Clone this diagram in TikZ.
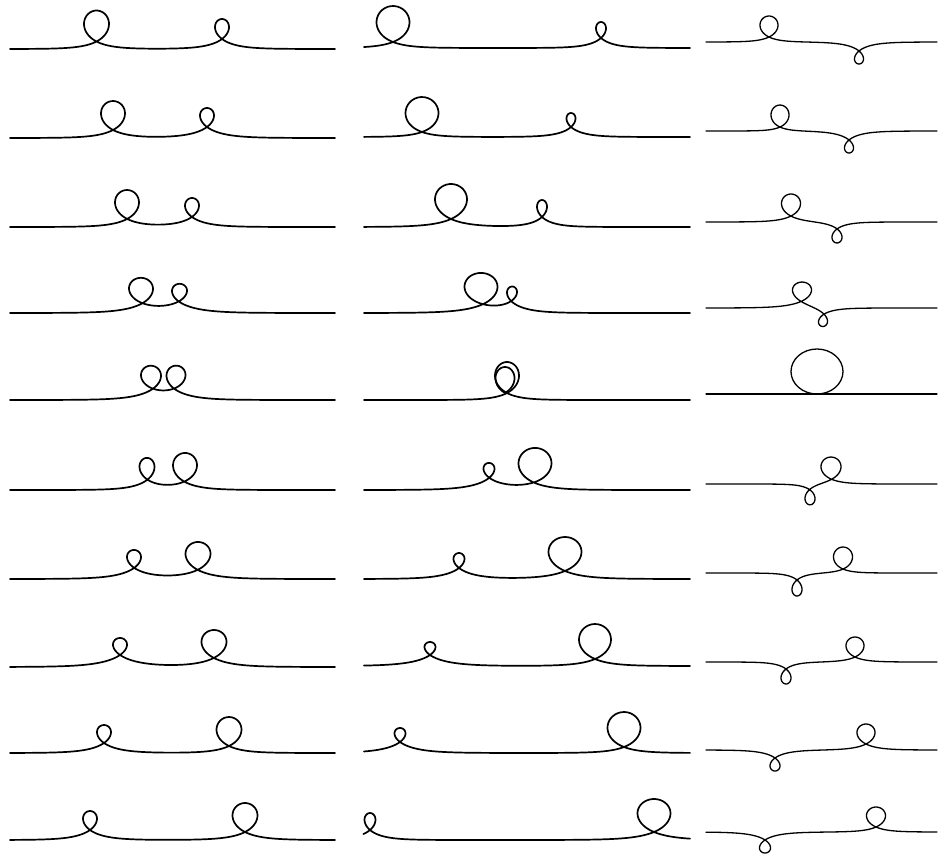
\documentclass[tikz,border=0pt]{standalone}
\usetikzlibrary{calc}

\tikzset{
  curve/.style={line width=1.7pt, line cap=round, line join=round},
  thincurve/.style={curve, line width=1.3pt},
  declare function={clp(\u)=max(-9,min(9,\u));
    tnh(\u)=tanh(clp(\u)); sch(\u)=1/cosh(clp(\u));}
}

% loop shape from width, height (signed) and rise of the crossing
\newcommand\setloopshape[3]{%
  \pgfmathsetmacro\lpz{(abs(#2)+#3)/#3}%
  \pgfmathsetmacro\lpuc{ln(\lpz+sqrt(\lpz*\lpz-1))}%
  \pgfmathsetmacro\lpal{\lpuc/tanh(\lpuc)}%
  \pgfmathsetmacro\lpum{ln(sqrt(\lpal)+sqrt(\lpal-1))}%
  \pgfmathsetmacro\lpw{#1/(2*(sqrt(\lpal*\lpal-\lpal)-\lpum))}%
  \pgfmathsetmacro\lpa{\lpal*\lpw}%
  \pgfmathsetmacro\lpb{(abs(#2)+#3)*sign(#2)}%
}

% two loops on one line, from x = #1 to x = #2
\newcommand\twoloops[3]{%
  \foreach \yb/\xa/\wa/\ha/\ra/\xb/\wb/\hb/\rb in {#3}{
    \setloopshape{\wa}{\ha}{\ra}
    \let\wA\lpw \let\aA\lpa \let\bA\lpb
    \setloopshape{\wb}{\hb}{\rb}
    \let\wB\lpw \let\aB\lpa \let\bB\lpb
    \pgfmathsetmacro\pA{\xa-\aB}
    \pgfmathsetmacro\pB{\xb+\aA}
    \pgfmathsetmacro\smin{#1-\aA-\aB}
    \pgfmathsetmacro\smax{#2+\aA+\aB}
    \draw[line] plot[smooth, domain=\smin:\smax, samples=240]
      ({\x-\aA*tnh((\x-\pA)/\wA)-\aB*tnh((\x-\pB)/\wB)},
       {\yb-\bA*sch((\x-\pA)/\wA)-\bB*sch((\x-\pB)/\wB)});
  }%
}

\begin{document}
\begin{tikzpicture}[x=1pt, y=-1pt]
  \useasboundingbox (0,0) rectangle (938,854);

  % left column
  \tikzset{line/.style={curve}}
  \twoloops{10}{335}{
    49/96.5/25/31/7.5/222/14/20/10,
    138/113/24/29/8/207/14/19/11,
    227/127/24/29/8/192/14/19/10,
    313/141/24/26/9/179.5/15/18/11,
    400/151/20/24/10/176/19/24/10,
    490/147/15/22/10/185/24/29/8,
    579/134/14/18/11/198/25/28/9,
    667/120/14/17/12/214/25/28/9,
    753/104/14/18/10/229/25/29/7,
    840/90/14/19/10/245/25/29/8}

  % middle column
  \twoloops{364}{690}{
    48/393/33/36/6/601/10/16/10,
    137/422/33/35/5/571/9/14/10,
    227/451/32/35/8/542/10/17/10,
    313/481/33/32/8/512/10/15/11,
    490/489/11/15/12/535/33/35/7,
    579/459/11/15/11/565/33/34/8,
    666/430/11/13/11/595/32/35/7,
    753/400/11/14/11/624/33/35/6,
    840/370/11/17/10/654/33/33/8}

  % middle column, double loop
  \setloopshape{24}{31}{7}
  \pgfmathsetmacro\smin{364-\lpa}
  \pgfmathsetmacro\smax{690+\lpa}
  \draw[curve] plot[smooth, domain=\smin:\smax, samples=240]
    ({\x-\lpa*tnh((\x-507)/\lpw)}, {400-\lpb*sch((\x-507)/\lpw)});
  \setloopshape{19}{26}{7}
  \pgfmathsetmacro\smin{505-\lpuc*\lpw}
  \pgfmathsetmacro\smax{505+\lpuc*\lpw}
  \draw[curve] plot[smooth, domain=\smin:\smax, samples=60]
    ({\x-\lpa*tnh((\x-505)/\lpw)}, {400-\lpb*sch((\x-505)/\lpw)});

  % right column
  \tikzset{line/.style={thincurve}}
  \twoloops{706}{937}{
    42/769/18/21/5/859/9/-13/9,
    131/780/18/22/4/849/9/-13/9,
    222/791/19/22/6/837/10/-14/7,
    308/802/19/19/7/823/9/-12/7,
    484/810/10/-15/6/831/20/22/5,
    573/797/10/-16/7/843/19/22/4,
    662/786/10/-15/7/855/18/20/5,
    750/775/10/-13/8/866/18/20/6,
    832/765/11/-13/8/876/19/20/5}

  % right column, closed loop on the line
  \coordinate (rl) at (706,394);
  \coordinate (rr) at (937,394);
  \draw[thincurve] (rl) -- (rr);
  \draw[thincurve] (817,371.5) ellipse [x radius=26pt, y radius=22.5pt];
\end{tikzpicture}
\end{document}
